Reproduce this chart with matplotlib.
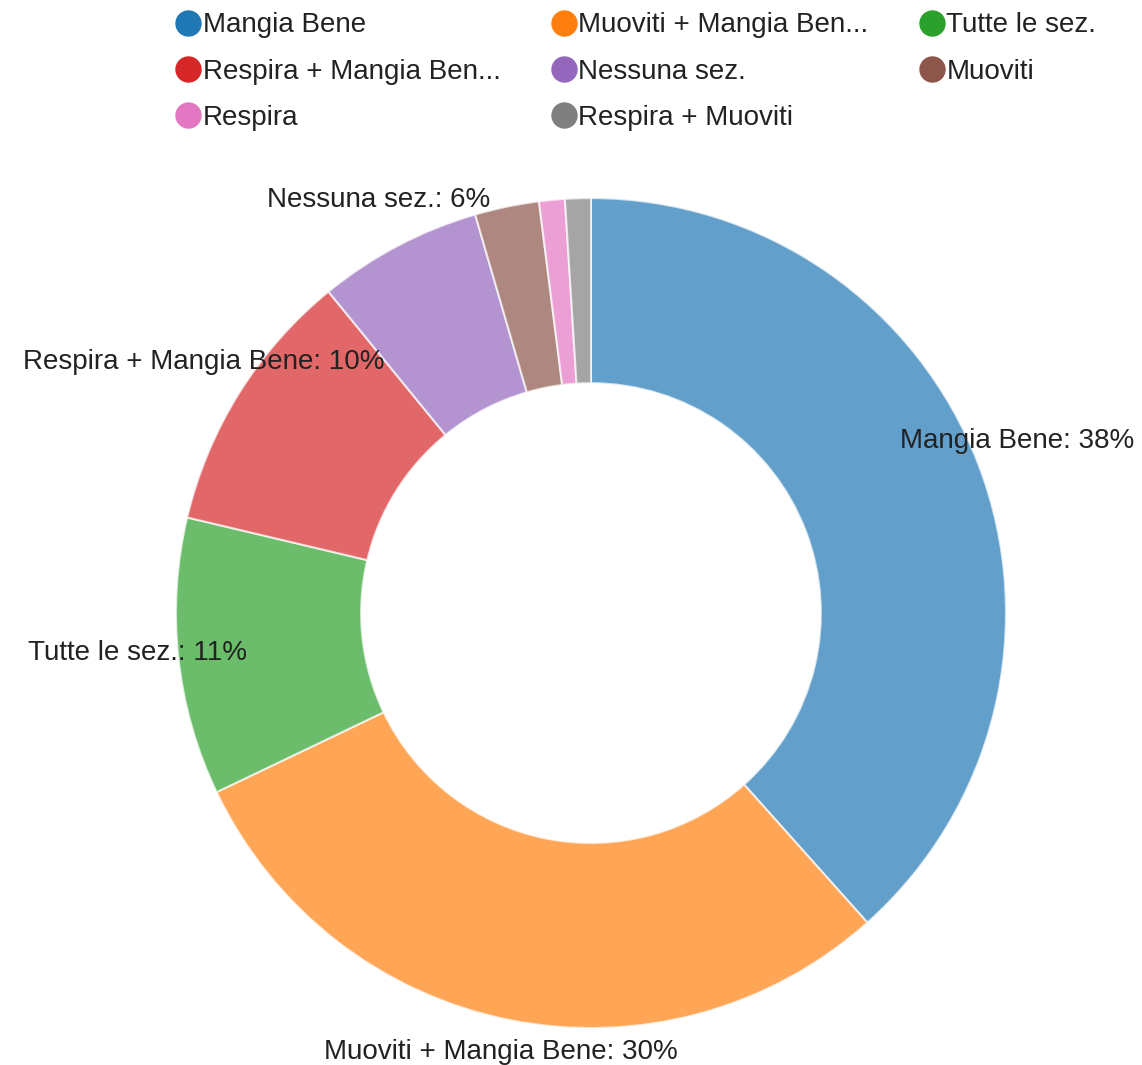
import numpy as np
import matplotlib.pyplot as plt
from matplotlib.lines import Line2D

plt.rcParams['font.family'] = ['Liberation Sans', 'DejaVu Sans']

categories = ["Mangia Bene", "Muoviti + Mangia Bene", "Tutte le sez.", "Respira + Mangia Bene",
              "Nessuna sez.", "Muoviti", "Respira", "Respira + Muoviti"]
legend_names = ["Mangia Bene", "Muoviti + Mangia Ben...", "Tutte le sez.", "Respira + Mangia Ben...",
                "Nessuna sez.", "Muoviti", "Respira", "Respira + Muoviti"]
values = [38.4, 29.5, 10.8, 10.4, 6.4, 2.5, 1.0, 1.0]
colors = ["#1f77b4", "#ff7f0e", "#2ca02c", "#d62728", "#9467bd", "#8c564b", "#e377c2", "#7f7f7f"]

fig = plt.figure(figsize=(11.42, 10.65), dpi=100)
ax = fig.add_axes([0.1541, 0.0347, 0.7268, 0.7793])

wedges, _ = ax.pie(values, colors=colors, startangle=90, counterclock=False, radius=1.0,
                   wedgeprops=dict(width=0.446, edgecolor='white', linewidth=1.5, alpha=0.7))
ax.set_xlim(-1, 1)
ax.set_ylim(-1, 1)

total = sum(values)
for w, name, v in zip(wedges, categories, values):
    pct = v / total * 100
    if pct < 5:
        continue
    ang = np.deg2rad((w.theta1 + w.theta2) / 2)
    ax.annotate(f"{name}: {pct:.0f}%", (1.1 * np.cos(ang), 1.1 * np.sin(ang)),
                xytext=(0, 6.5), textcoords='offset points', annotation_clip=False,
                ha='center', va='center', fontsize=20, color='#222222', zorder=5)

handles = [Line2D([], [], marker='o', linestyle='', markersize=18, color=c) for c in colors]
order = [0, 3, 6, 1, 4, 7, 2, 5]
fig.legend([handles[i] for i in order], [legend_names[i] for i in order], ncol=3,
           loc='upper left', bbox_to_anchor=(0.1532, 0.9885), frameon=False, fontsize=20,
           borderaxespad=0, borderpad=0,
           handletextpad=0.05, columnspacing=1.8, labelspacing=0.73, handlelength=0.95,
           labelcolor='#222222')

fig.savefig("out.png", dpi=100)
